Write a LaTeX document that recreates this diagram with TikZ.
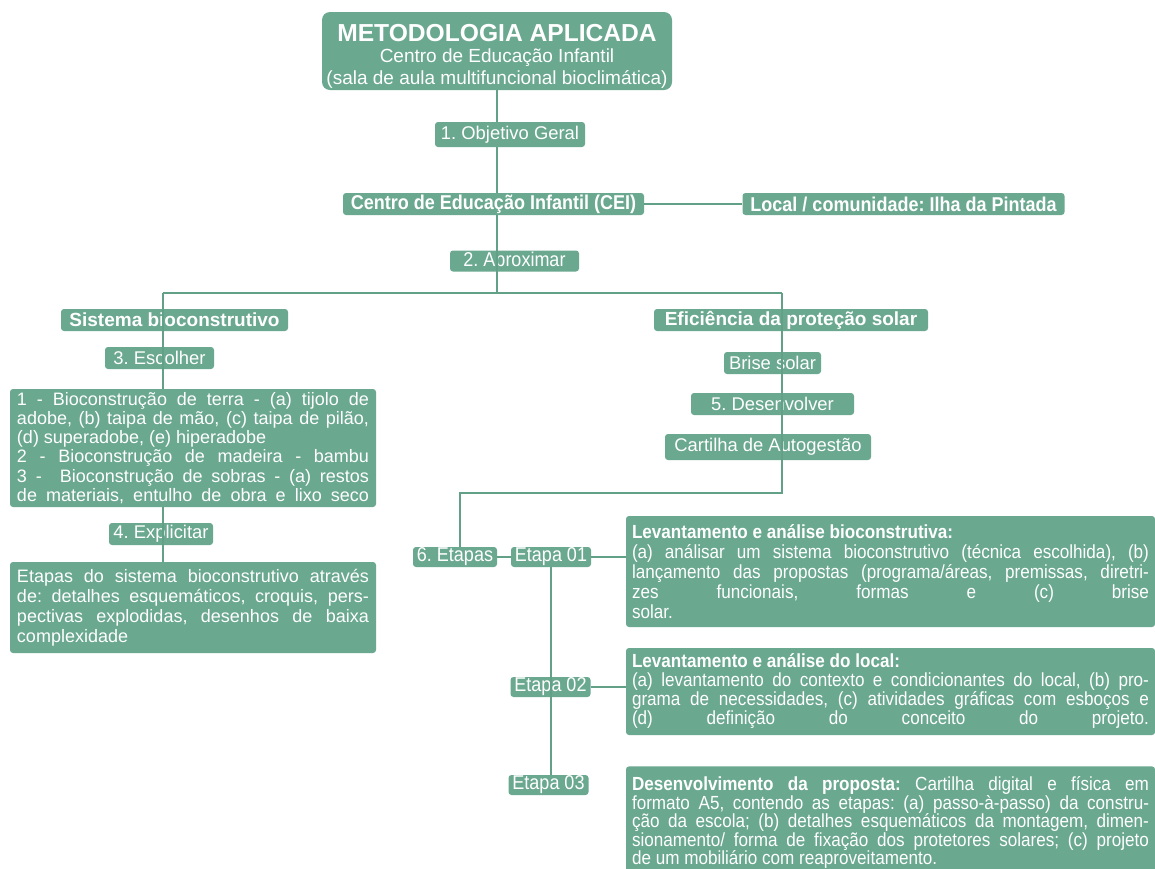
\documentclass[tikz,border=0pt]{standalone}
\usepackage{fontspec}
\setmainfont{Liberation Sans}
\newfontfamily\narrowfont[FakeStretch=0.9]{Liberation Sans}
\definecolor{boxgreen}{RGB}{106,168,144}
\definecolor{linegreen}{RGB}{98,160,136}
\parindent=0pt
\frenchspacing
\hyphenpenalty=10000
\exhyphenpenalty=10000
\tolerance=10000
\hbadness=10000

\begin{document}
\begin{tikzpicture}[x=0.5pt,y=-0.5pt,
    box/.style={fill=boxgreen,text=white,rounded corners=1.5pt,inner sep=0pt,font=\fontsize{9.2}{10}\selectfont},
    headbox/.style={box,font=\fontsize{9.5}{10}\selectfont\bfseries},
    etapabox/.style={box,font=\fontsize{10}{10}\selectfont\narrowfont,minimum width=40pt,minimum height=10pt},
    textbox/.style={box,align=justify,inner xsep=3.5pt,text width=176pt,font=\fontsize{9}{9.6}\selectfont},
    descbox/.style={box,align=justify,inner xsep=3pt,text width=258.5pt,font=\fontsize{9.5}{10}\selectfont\narrowfont},
    link/.style={draw=linegreen,line width=1pt}]
  \useasboundingbox (0,0) rectangle (1155,868);
  % Topo
  \node[box,rounded corners=4pt,minimum width=175pt,minimum height=39pt,align=center,
        font=\fontsize{9.5}{11}\selectfont] (title) at (497,51)
        {{\fontsize{12.3}{14}\selectfont\bfseries\rule{0pt}{14pt}METODOLOGIA APLICADA}\\[-0.5pt]
         Centro de Educação Infantil\\ (sala de aula multifuncional bioclimática)};
  \node[box,minimum width=75pt,minimum height=12.5pt] (obj) at (510,134.5) {1. Objetivo Geral};
  \node[headbox,font=\fontsize{10}{11}\selectfont\narrowfont\bfseries,minimum width=150.5pt,minimum height=11pt]
        (cei) at (493.5,204) {Centro de Educação Infantil (CEI)};
  \node[headbox,font=\fontsize{10}{11}\selectfont\narrowfont\bfseries,minimum width=161pt,minimum height=11pt]
        (local) at (903.5,204) {Local / comunidade: Ilha da Pintada};
  \node[box,font=\fontsize{10}{11}\selectfont\narrowfont,minimum width=64.5pt,minimum height=10.5pt]
        (aprox) at (514.5,261) {2. Aproximar};
  % Ramo esquerdo
  \node[headbox,minimum width=113.5pt,minimum height=11pt] (sist) at (174.5,320) {Sistema bioconstrutivo};
  \node[box,minimum width=54.5pt,minimum height=11pt] (esc) at (159.5,358) {3. Escolher};
  \node[textbox,minimum height=59pt] (leftA) at (193,448)
        {1 - Bioconstrução de terra - (a) tijolo de\linebreak
         adobe, (b) taipa de mão, (c) taipa de pilão,\linebreak
         (d) superadobe, (e) hiperadobe\par
         2 - Bioconstrução de madeira - bambu\linebreak
         3 -\hspace{1em}Bioconstrução de sobras - (a) restos\linebreak
         de materiais, entulho de obra e lixo seco{\parfillskip=0pt\par}};
  \node[box,minimum width=52pt,minimum height=11pt] (expl) at (161,534) {4. Explicitar};
  \node[textbox,font=\fontsize{9}{10}\selectfont,minimum height=45.5pt] (leftB) at (193,607.5)
        {Etapas do sistema bioconstrutivo através\linebreak
         de: detalhes esquemáticos, croquis, pers-\linebreak
         pectivas explodidas, desenhos de baixa\linebreak
         complexidade};
  % Ramo direito
  \node[headbox,minimum width=137pt,minimum height=11pt] (efic) at (791,320) {Eficiência da proteção solar};
  \node[box,minimum width=48.5pt,minimum height=11pt] (brise) at (772.5,363) {Brise solar};
  \node[box,minimum width=81.5pt,minimum height=11pt] (desen) at (772.5,404) {5. Desenvolver};
  \node[box,minimum width=103pt,minimum height=13pt] (cart) at (768,447) {Cartilha de Autogestão};
  % Etapas
  \node[etapabox,minimum width=42pt] (etapas) at (455,557) {6. Etapas};
  \node[etapabox] (e1) at (551,557) {Etapa 01};
  \node[etapabox] (e2) at (550.5,687) {Etapa 02};
  \node[etapabox] (e3) at (548.5,785) {Etapa 03};
  \node[descbox,minimum height=55.5pt] (b1) at (890.5,571.5)
        {\textbf{Levantamento e análise bioconstrutiva:}\\
         (a) análisar um sistema bioconstrutivo (técnica escolhida), (b)\linebreak
         lançamento das propostas (programa/áreas, premissas, diretri-\linebreak
         zes funcionais, formas e (c) brise\linebreak
         solar.};
  \node[descbox,font=\fontsize{9.5}{9.5}\selectfont\narrowfont,minimum height=43.5pt] (b2) at (890.5,691.5)
        {\textbf{Levantamento e análise do local:}\\
         (a) levantamento do contexto e condicionantes do local, (b) pro-\linebreak
         grama de necessidades, (c) atividades gráficas com esboços e\linebreak
         (d) definição do conceito do projeto.{\parfillskip=0pt\par}};
  \node[descbox,font=\fontsize{9.5}{9.3}\selectfont\narrowfont,anchor=north,inner ysep=5pt] (b3) at (890.5,766)
        {\textbf{Desenvolvimento da proposta:} Cartilha digital e física em\linebreak
         formato A5, contendo as etapas: (a) passo-à-passo) da constru-\linebreak
         ção da escola; (b) detalhes esquemáticos da montagem, dimen-\linebreak
         sionamento/ forma de fixação dos protetores solares; (c) projeto\linebreak
         de um mobiliário com reaproveitamento.};
  % Ligacoes
  \coordinate (hl) at (163,293);
  \coordinate (hr) at (782,293);
  \coordinate (turn) at (782,493);
  \coordinate (etcol) at (460,493);
  \draw[link] (title.south) -- (title.south |- obj.north);
  \draw[link] (title.south |- obj.south) -- (title.south |- cei.north);
  \draw[link] (title.south |- cei.south) -- (title.south |- hl);
  \draw[link] (cei.east) -- (local.west);
  \draw[link] (hl) -- (hr);
  \draw[link] (hl) -- (hl |- leftA.north);
  \draw[link] (hl |- leftA.south) -- (hl |- leftB.north);
  \draw[link] (hr) -- (turn) -- (etcol) -- (etcol |- etapas.north);
  \draw[link] (etapas.east) -- (e1.west);
  \draw[link] (e1.east) -- (e1.east -| b1.west);
  \draw[link] (e2.east) -- (e2.east -| b2.west);
  \draw[link] (e1.south) -- (e1.south |- e3.north);
\end{tikzpicture}
\end{document}
